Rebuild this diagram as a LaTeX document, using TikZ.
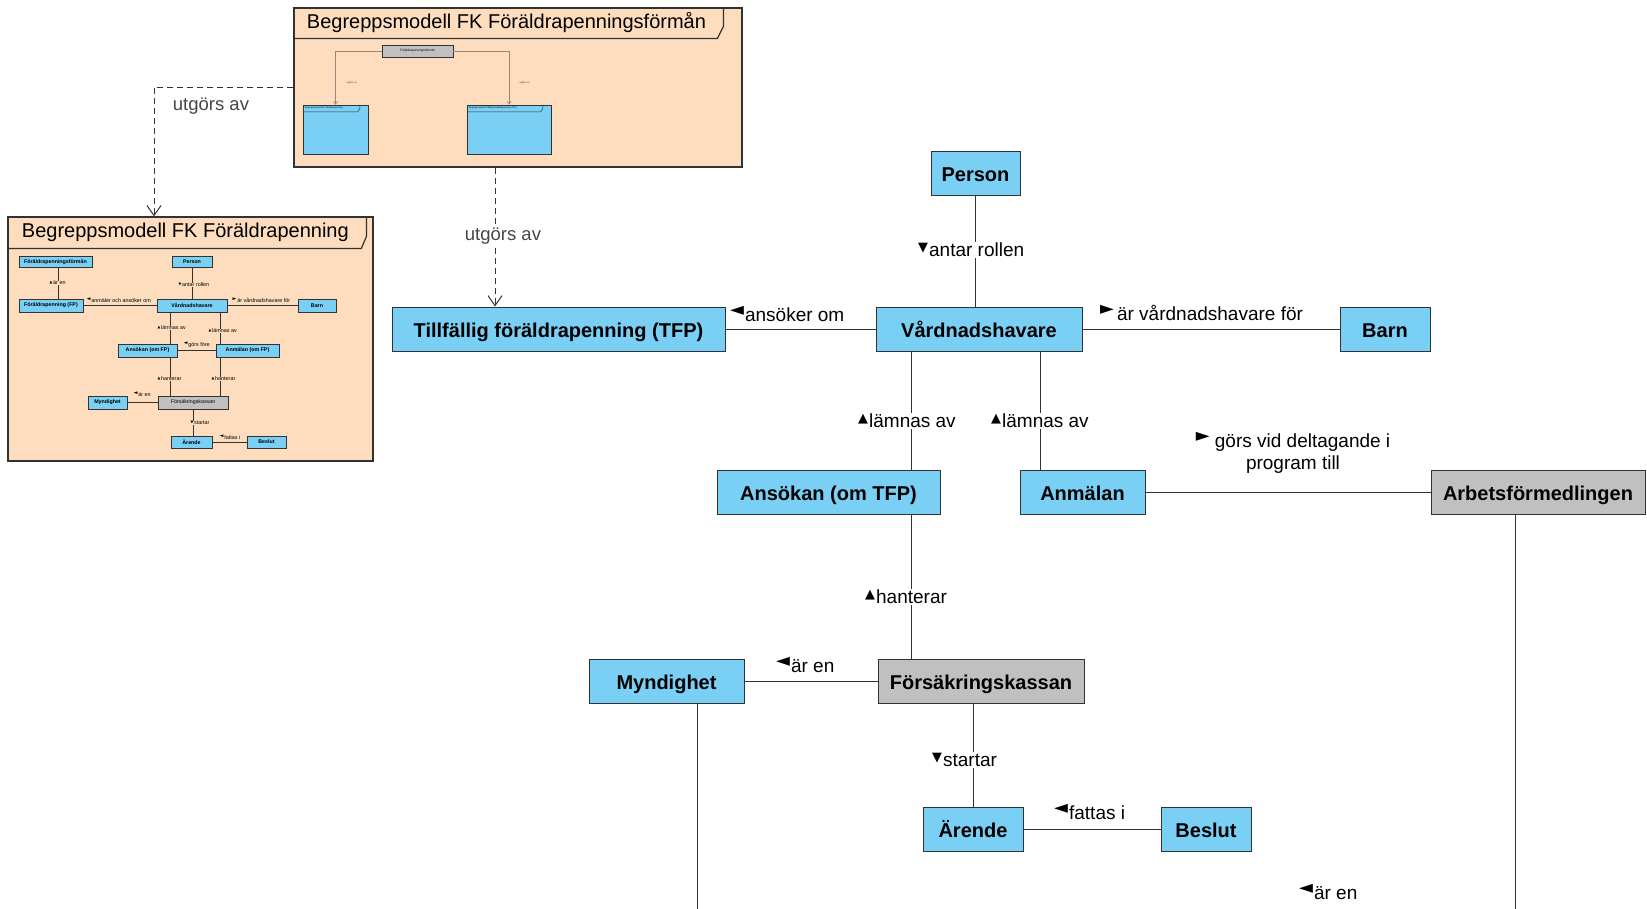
\documentclass[tikz,border=0pt]{standalone}
\usepackage{fontspec}
\usepackage{graphicx}
\setmainfont{Liberation Sans}
\newfontfamily\trifont{DejaVu Sans}
\usetikzlibrary{arrows.meta}

\definecolor{clsblue}{RGB}{122,207,245}
\definecolor{clsgray}{RGB}{192,192,192}
\definecolor{pkgfill}{RGB}{253,221,189}
\definecolor{edge}{RGB}{50,50,50}
\definecolor{deptext}{RGB}{70,70,70}
\definecolor{minidep}{RGB}{150,135,120}

\newcommand{\dirup}{\raisebox{.3em}{\scalebox{.68}{\trifont ▲}}}
\newcommand{\dirdown}{\raisebox{.3em}{\scalebox{.68}{\trifont ▼}}}
\newcommand{\dirleft}{\raisebox{.3em}{\scalebox{.95}{\trifont ◄}}}
\newcommand{\dirright}{\raisebox{.3em}{\scalebox{.95}{\trifont ►}}}

\begin{document}
\begin{tikzpicture}[
    x=1pt, y=-1pt,
    box/.style={rectangle, draw=edge, line width=1pt, fill=clsblue, font=\bfseries\fontsize{20}{24}\selectfont, minimum height=44, text height=16pt, text depth=0pt, inner sep=0pt},
    greybox/.style={box, fill=clsgray},
    pkg/.style={rectangle, draw=edge, line width=1.2pt, fill=pkgfill, inner sep=0pt},
    tab/.style={draw=edge, line width=1.2pt},
    assoc/.style={draw=edge, line width=1pt},
    dep/.style={draw=edge, line width=1pt, dash pattern=on 6pt off 4pt, -{Straight Barb[length=10pt, width=14pt]}},
    rel/.style={fill=white, inner sep=1pt, font=\fontsize{19}{22}\selectfont, anchor=west},
    deplabel/.style={fill=white, inner sep=1pt, text=deptext, font=\fontsize{18.5}{22}\selectfont},
    mini/.style={rectangle, draw=edge, line width=0.5pt, fill=clsblue, font=\bfseries\fontsize{5.3}{6}\selectfont, minimum height=13, inner sep=0pt},
    minirel/.style={fill=pkgfill, inner sep=0.3pt, font=\fontsize{5.4}{6}\selectfont, anchor=west},
    miniline/.style={draw=edge, line width=0.5pt}
]
    \useasboundingbox (0,0) rectangle (1647,908);
    \clip (0,0) rectangle (1647,908);

    % Packages
    \node[pkg, minimum width=448, minimum height=159] (fpf) at (518,87.5) {};
    \draw[tab] ([yshift=-31]fpf.north west) -- ++(424,0) -- ++(6,-12) -- ++(0,-19);
    \node[anchor=west, font=\fontsize{20}{24}\selectfont] (fpftitle) at ([xshift=10,yshift=-15.5]fpf.north west) {Begreppsmodell FK Föräldrapenningsförmån};

    \node[pkg, minimum width=365, minimum height=244] (fp) at (190.5,339) {};
    \draw[tab] ([yshift=-32]fp.north west) -- ++(354,0) -- ++(5,-12) -- ++(0,-20);
    \node[anchor=west, font=\fontsize{20}{24}\selectfont] (fptitle) at ([xshift=11,yshift=-16]fp.north west) {Begreppsmodell FK Föräldrapenning};

    % Content of the upper package
    \node[mini, fill=clsgray, minimum width=71, minimum height=12, font=\fontsize{3.2}{4}\selectfont] (tfpf) at (417.5,51) {Föräldrapenningsförmån};
    \node[mini, minimum width=65, minimum height=49] (tpkg1) at (335.5,129.5) {};
    \node[mini, minimum width=84, minimum height=49] (tpkg2) at (509,129.5) {};
    \draw[miniline] ([yshift=-7]tpkg1.north west) -- ++(55,0) -- ++(2,-3) -- ++(0,-4);
    \draw[miniline] ([yshift=-7]tpkg2.north west) -- ++(74,0) -- ++(2,-3) -- ++(0,-4);
    \node[anchor=west, inner sep=0pt, font=\fontsize{2.3}{3}\selectfont] (tpkg1title) at ([xshift=2,yshift=-3.5]tpkg1.north west) {Begreppsmodell FK Föräldrapenning};
    \node[anchor=west, inner sep=0pt, font=\fontsize{2.3}{3}\selectfont] (tpkg2title) at ([xshift=2,yshift=-3.5]tpkg2.north west) {Begreppsmodell Tillfällig föräldrapenning (TFP)};
    \draw[draw=minidep, line width=0.6pt, -{Straight Barb[length=3pt, width=4pt]}] (tfpf.west) -| (tpkg1.north);
    \draw[draw=minidep, line width=0.6pt, -{Straight Barb[length=3pt, width=4pt]}] (tfpf.east) -| (tpkg2.north);
    \node[minirel, text=deptext, font=\fontsize{2.5}{3}\selectfont] (tdep1) at (346,83) {utgörs av};
    \node[minirel, text=deptext, font=\fontsize{2.5}{3}\selectfont] (tdep2) at (519,83) {utgörs av};

    % Content of the left package
    \node[mini, minimum width=73, minimum height=11] (mfpf) at (55.5,261.5) {Föräldrapenningsförmån};
    \node[mini, minimum width=40, minimum height=11] (mperson) at (192,261.5) {Person};
    \node[mini, minimum width=64] (mfp) at (51,305.5) {Föräldrapenning (FP)};
    \node[mini, minimum width=70] (mvard) at (192,305.5) {Vårdnadshavare};
    \node[mini, minimum width=38] (mbarn) at (317,305.5) {Barn};
    \node[mini, minimum width=59] (mansokan) at (147.5,350.5) {Ansökan (om FP)};
    \node[mini, minimum width=63] (manmalan) at (247.5,350.5) {Anmälan (om FP)};
    \node[mini, minimum width=39] (mmyn) at (107.5,402.5) {Myndighet};
    \node[mini, fill=clsgray, font=\fontsize{5.3}{6}\selectfont, minimum width=70] (mfk) at (193,402.5) {Försäkringskassan};
    \node[mini, minimum width=41, minimum height=12] (marende) at (191.5,442) {Ärende};
    \node[mini, minimum width=39, minimum height=12] (mbeslut) at (266.5,442) {Beslut};

    \draw[miniline] ([xshift=2.5]mfpf.south) -- ([xshift=2.5]mfpf.south |- mfp.north);
    \draw[miniline] (mperson) -- (mvard);
    \draw[miniline] (mfp) -- (mvard);
    \draw[miniline] (mvard) -- (mbarn);
    \draw[miniline] ([xshift=-22]mvard.south) -- ([xshift=-22]mvard.south |- mansokan.north);
    \draw[miniline] ([xshift=28]mvard.south) -- ([xshift=28]mvard.south |- manmalan.north);
    \draw[miniline] (mansokan) -- (manmalan);
    \draw[miniline] ([xshift=22.5]mansokan.south) -- ([xshift=22.5]mansokan.south |- mfk.north);
    \draw[miniline] ([xshift=-27.5]manmalan.south) -- ([xshift=-27.5]manmalan.south |- mfk.north);
    \draw[miniline] (mmyn) -- (mfk);
    \draw[miniline] (mfk.south) -- (mfk.south |- marende.north);
    \draw[miniline] (marende) -- (mbeslut);

    \node[minirel] (mlbl1) at (49,283) {\dirup\,är en};
    \node[minirel] (mlbl2) at (178,285) {\dirdown\,antar rollen};
    \node[minirel] (mlbl3) at (86,300) {\dirleft\,anmäler och ansöker om};
    \node[minirel] (mlbl4) at (232,300) {\dirright\,är vårdnadshavare för};
    \node[minirel] (mlbl5) at (157,328) {\dirup\,lämnas av};
    \node[minirel] (mlbl6) at (208,331) {\dirup\,lämnas av};
    \node[minirel] (mlbl7) at (183,345) {\dirleft\,görs före};
    \node[minirel] (mlbl8) at (157,379) {\dirup\,hanterar};
    \node[minirel] (mlbl9) at (211,379) {\dirup\,hanterar};
    \node[minirel] (mlbl10) at (133,394) {\dirleft\,är en};
    \node[minirel] (mlbl11) at (190,423) {\dirdown\,startar};
    \node[minirel] (mlbl12) at (219,437) {\dirleft\,fattas i};

    % Main classes
    \node[box, minimum width=89] (person) at (975.5,173.5) {Person};
    \node[box, minimum width=333] (tfp) at (558.5,329) {Tillfällig föräldrapenning (TFP)};
    \node[box, minimum width=206] (vard) at (979,329) {Vårdnadshavare};
    \node[box, minimum width=90] (barn) at (1385,329) {Barn};
    \node[box, minimum width=223] (ansokan) at (828.5,492) {Ansökan (om TFP)};
    \node[box, minimum width=125] (anmalan) at (1082.5,492) {Anmälan};
    \node[greybox, minimum width=214] (arbf) at (1538,492) {Arbetsförmedlingen};
    \node[box, minimum width=155] (myn) at (666.5,681) {Myndighet};
    \node[greybox, minimum width=206] (fk) at (981,681) {Försäkringskassan};
    \node[box, minimum width=100] (arende) at (973,829) {Ärende};
    \node[box, minimum width=90] (beslut) at (1206,829) {Beslut};
    \coordinate (low) at (697,915);

    % Dependencies
    \draw[dep] (fpf.west) -| ([xshift=-36.5]fp.north);
    \draw[dep] ([xshift=-23]fpf.south) -- ([xshift=-23]fpf.south |- tfp.north);
    \node[deplabel] (dep1) at (211,106) {utgörs av};
    \node[deplabel] (dep2) at (503,236) {utgörs av};

    % Associations
    \draw[assoc] (person) -- (person |- vard.north);
    \draw[assoc] (tfp) -- (vard);
    \draw[assoc] (vard) -- (barn);
    \draw[assoc] ([xshift=-68]vard.south) -- ([xshift=-68]vard.south |- ansokan.north);
    \draw[assoc] ([xshift=61]vard.south) -- ([xshift=61]vard.south |- anmalan.north);
    \draw[assoc] (anmalan) -- (arbf);
    \draw[assoc] ([xshift=82.5]ansokan.south) -- ([xshift=82.5]ansokan.south |- fk.north);
    \draw[assoc] (myn) -- (fk);
    \draw[assoc] (arende.north) -- (arende.north |- fk.south);
    \draw[assoc] (arende) -- (beslut);
    \draw[assoc] ([xshift=30.5]myn.south) -- ([xshift=30.5]myn.south |- low) -| ([xshift=-23]arbf.south);

    % Association names
    \node[rel] (lblroll) at (917,250) {\dirdown\hspace{1pt}antar rollen};
    \node[rel] (lblansok) at (729,314) {\dirleft\hspace{1pt}ansöker om};
    \node[rel] (lblvard) at (1099,313) {\dirright\hspace{3pt}är vårdnadshavare för};
    \node[rel] (lbllamn1) at (857,421) {\dirup\hspace{1pt}lämnas av};
    \node[rel] (lbllamn2) at (990,421) {\dirup\hspace{1pt}lämnas av};
    \node[rel, anchor=center, align=center] (lblprog) at (1293,453) {\dirright\ görs vid deltagande i\\program till};
    \node[rel] (lblhant) at (864,597) {\dirup\hspace{1pt}hanterar};
    \node[rel] (lblmyn) at (775,665) {\dirleft\hspace{1pt}är en};
    \node[rel] (lblstart) at (931,760) {\dirdown\hspace{1pt}startar};
    \node[rel] (lblbeslut) at (1053,812) {\dirleft\hspace{1pt}fattas i};
    \node[rel] (lblarbf) at (1298,892) {\dirleft\hspace{1pt}är en};
\end{tikzpicture}
\end{document}
